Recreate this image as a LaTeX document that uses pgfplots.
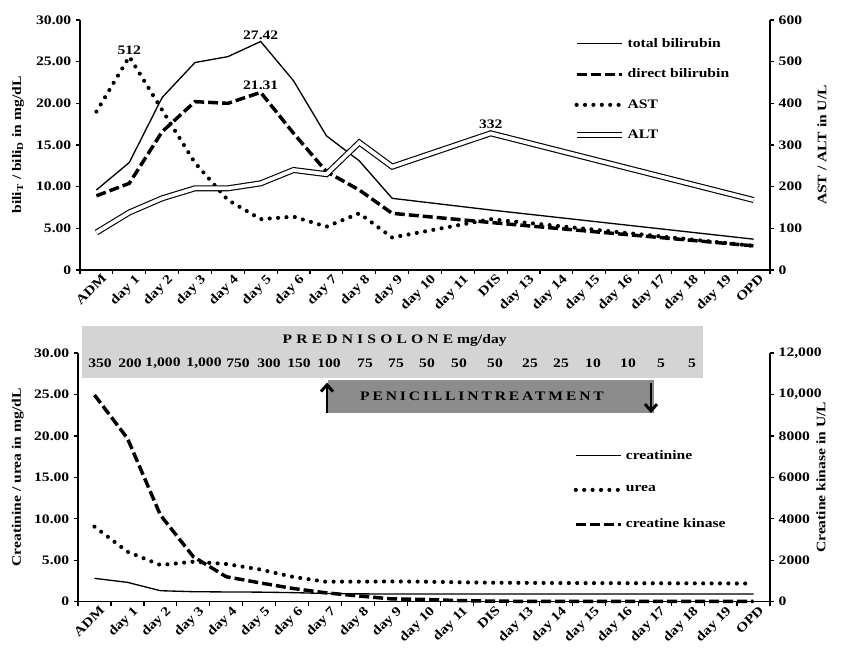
\documentclass[border=0pt]{standalone}
\usepackage{fontspec}
\setmainfont{Liberation Serif}[FakeStretch=1.2]
\usepackage{pgfplots}
\pgfplotsset{compat=1.18}
\usetikzlibrary{arrows.meta}
\newcommand\ff{\fontsize{9.75pt}{11pt}\selectfont\bfseries}
\definecolor{lightbox}{RGB}{212,212,212}
\definecolor{darkbox}{RGB}{140,140,140}
\pgfplotsset{
  tb/.style={black, line width=1pt, mark=none, solid},
  db/.style={black, line width=2.6pt, mark=none, dash pattern=on 7.5pt off 3pt},
  ast/.style={black, line width=3.1pt, mark=none, dash pattern=on 0pt off 6.3pt, line cap=round},
  alt/.style={black, line width=0.85pt, mark=none, double=white, double distance=2.8pt},
  base/.style={
    scale only axis, width=517.5pt, height=187.5pt,
    xmin=-0.5, xmax=20.5,
    xtick={0,...,20},
    xticklabels={ADM,day 1,day 2,day 3,day 4,day 5,day 6,day 7,day 8,day 9,day 10,day 11,DIS,day 13,day 14,day 15,day 16,day 17,day 18,day 19,OPD},
    major x tick style={draw=none},
    minor xtick={-0.5,0.5,...,20.5},
    major tick length=3pt, minor tick length=3pt,
    tick align=outside,
    tick style={black, line width=0.9pt},
    axis line style={black, line width=0.9pt},
    tick label style={font=\ff},
    xticklabel style={rotate=45, anchor=north east, inner sep=1pt, xshift=4pt, yshift=-1pt},
    scaled y ticks=false,
    /pgf/number format/assume math mode=true,
    legend image code/.code={\draw[##1] (0pt,0pt) -- (34pt,0pt);},
    clip=false,
  },
}
\begin{document}
\begin{tikzpicture}
\useasboundingbox (0,0) rectangle (631.5pt,-486pt);
% ---------------- top panel, left axis
\begin{axis}[base, at={(60pt,-202.5pt)}, anchor=south west,
  axis x line*=bottom, axis y line*=left,
  ymin=0, ymax=30, ytick={0,5,10,15,20,25,30},
  yticklabels={0,5.00,10.00,15.00,20.00,25.00,30.00},
  ylabel={bili\textsubscript{T} / bili\textsubscript{D} in mg/dL},
  every axis y label/.style={at={(axis description cs:-0.0899,0.5)}, rotate=90, anchor=center, font=\ff}]
\addplot[tb] coordinates {(0,9.6)(1,12.9)(2,20.7)(3,24.9)(4,25.6)(5,27.42)(6,22.7)(7,16.1)(8,13.1)(9,8.6)(12,7.2)(20,3.7)};
\addplot[db] coordinates {(0,8.9)(1,10.4)(2,16.6)(3,20.2)(4,20.0)(5,21.31)(6,16.4)(7,11.8)(8,9.6)(9,6.8)(12,5.7)(20,2.9)};
\node[font=\ff, anchor=south, inner sep=1pt] at (axis cs:5,27.42) {27.42};
\node[font=\ff, anchor=south, inner sep=1pt, yshift=1pt] at (axis cs:5,21.31) {21.31};
\end{axis}
% ---------------- top panel, right axis
\begin{axis}[base, at={(60pt,-202.5pt)}, anchor=south west,
  axis x line=none, axis y line*=right,
  ymin=0, ymax=600, ytick={0,100,...,600},
  yticklabels={0,100,200,300,400,500,600},
  ylabel={AST / ALT in U/L},
  every axis y label/.style={at={(axis description cs:1.0754,0.5)}, rotate=90, anchor=center, font=\ff},
  legend style={draw=none, fill=none, at={(axis description cs:0.7150,0.939)}, anchor=north west,
    font=\ff, row sep=10.75pt, inner sep=0pt, cells={anchor=west}},
  legend cell align=left]
\addlegendimage{tb}\addlegendentry{total bilirubin}
\addlegendimage{db}\addlegendentry{direct bilirubin}
\addplot[ast] coordinates {(0,380)(1,512)(2,384)(3,257)(4,168)(5,122)(6,128)(7,104)(8,136)(9,78)(12,122)(20,58)};
\addlegendentry{AST}
\addplot[alt] coordinates {(0,90)(1,138)(2,172)(3,196)(4,196)(5,208)(6,240)(7,230)(8,306)(9,248)(12,328)(20,168)};
\addlegendentry{ALT}
\node[font=\ff, anchor=south, inner sep=1pt] at (axis cs:1,512) {512};
\node[font=\ff, anchor=south, inner sep=1pt, yshift=1pt] at (axis cs:12,332) {332};
\end{axis}
% ---------------- bottom panel, left axis
\begin{axis}[base, at={(58.5pt,-451.3pt)}, anchor=south west, width=519pt, height=186.5pt,
  axis x line*=bottom, axis y line*=left,
  ymin=0, ymax=30, ytick={0,5,10,15,20,25,30},
  yticklabels={0,5.00,10.00,15.00,20.00,25.00,30.00},
  ylabel={Creatinine / urea in mg/dL},
  every axis y label/.style={at={(axis description cs:-0.087,0.5)}, rotate=90, anchor=center, font=\ff}]
\addplot[tb] coordinates {(0,2.82)(1,2.34)(2,1.33)(3,1.21)(4,1.18)(5,1.16)(6,1.1)(7,1.0)(8,0.95)(9,0.93)(10,0.93)(11,0.93)(12,0.93)(13,0.93)(14,0.93)(15,0.93)(16,0.93)(17,0.93)(18,0.93)(19,0.93)(20,0.93)};
\addplot[ast] coordinates {(0,9.06)(1,6.04)(2,4.43)(3,4.83)(4,4.55)(5,3.91)(6,3.02)(7,2.42)(8,2.42)(9,2.45)(10,2.42)(11,2.35)(12,2.3)(13,2.28)(14,2.26)(15,2.25)(16,2.24)(17,2.23)(18,2.22)(19,2.21)(20,2.2)};
\end{axis}
% ---------------- bottom panel, right axis
\begin{axis}[base, at={(58.5pt,-451.3pt)}, anchor=south west, width=519pt, height=186.5pt,
  axis x line=none, axis y line*=right,
  ymin=0, ymax=12000, ytick={0,2000,...,12000},
  yticklabels={0,2000,4000,6000,8000,{10,000},{12,000}},
  ylabel={Creatine kinase in U/L},
  every axis y label/.style={at={(axis description cs:1.0737,0.5)}, rotate=90, anchor=center, font=\ff},
  legend style={draw=none, fill=none, at={(axis description cs:0.716,0.622)}, anchor=north west,
    font=\ff, row sep=14.6pt, inner sep=0pt, cells={anchor=west}},
  legend cell align=left]
\addlegendimage{tb}\addlegendentry{creatinine}
\addlegendimage{ast}\addlegendentry{urea}
\addplot[db] coordinates {(0,9976)(1,7886)(2,4184)(3,2172)(4,1207)(5,917)(6,647)(7,434)(8,280)(9,140)(10,110)(11,60)(12,30)(13,20)(14,20)(15,20)(16,20)(17,20)(18,20)(19,20)(20,20)};
\addlegendentry{creatine kinase}
\end{axis}
% ---------------- treatment boxes
\fill[lightbox] (61.5pt,-244.5pt) rectangle (527.25pt,-283.5pt);
\node[font=\ff] at (296pt,-255.5pt) {{\addfontfeature{LetterSpace=32}PREDNISOLONE}\ mg/day};
\foreach \x/\t in {100/350,130/200,163/{1,000},204/{1,000},238/750,269/300,299/150,329/100,365/75,396/75,427/50,459/50,495/50,530/25,561/25,593/10,628/10,661/5,692/5}
  \node[font=\ff] at (\x*0.75pt,-272.25pt) {\t};
\fill[darkbox] (246pt,-285pt) rectangle (490.5pt,-309.75pt);
\node[font=\ff] at (361.5pt,-297.5pt) {\addfontfeature{LetterSpace=22}PENICILLINTREATMENT};
\draw[line width=2.2pt, -{Straight Barb[length=5pt,width=9pt,line width=2.2pt]}] (245.25pt,-309.75pt) -- (245.25pt,-287pt);
\draw[line width=2.2pt, -{Straight Barb[length=5pt,width=9pt,line width=2.2pt]}] (488.25pt,-287pt) -- (488.25pt,-309.75pt);
\end{tikzpicture}
\end{document}
